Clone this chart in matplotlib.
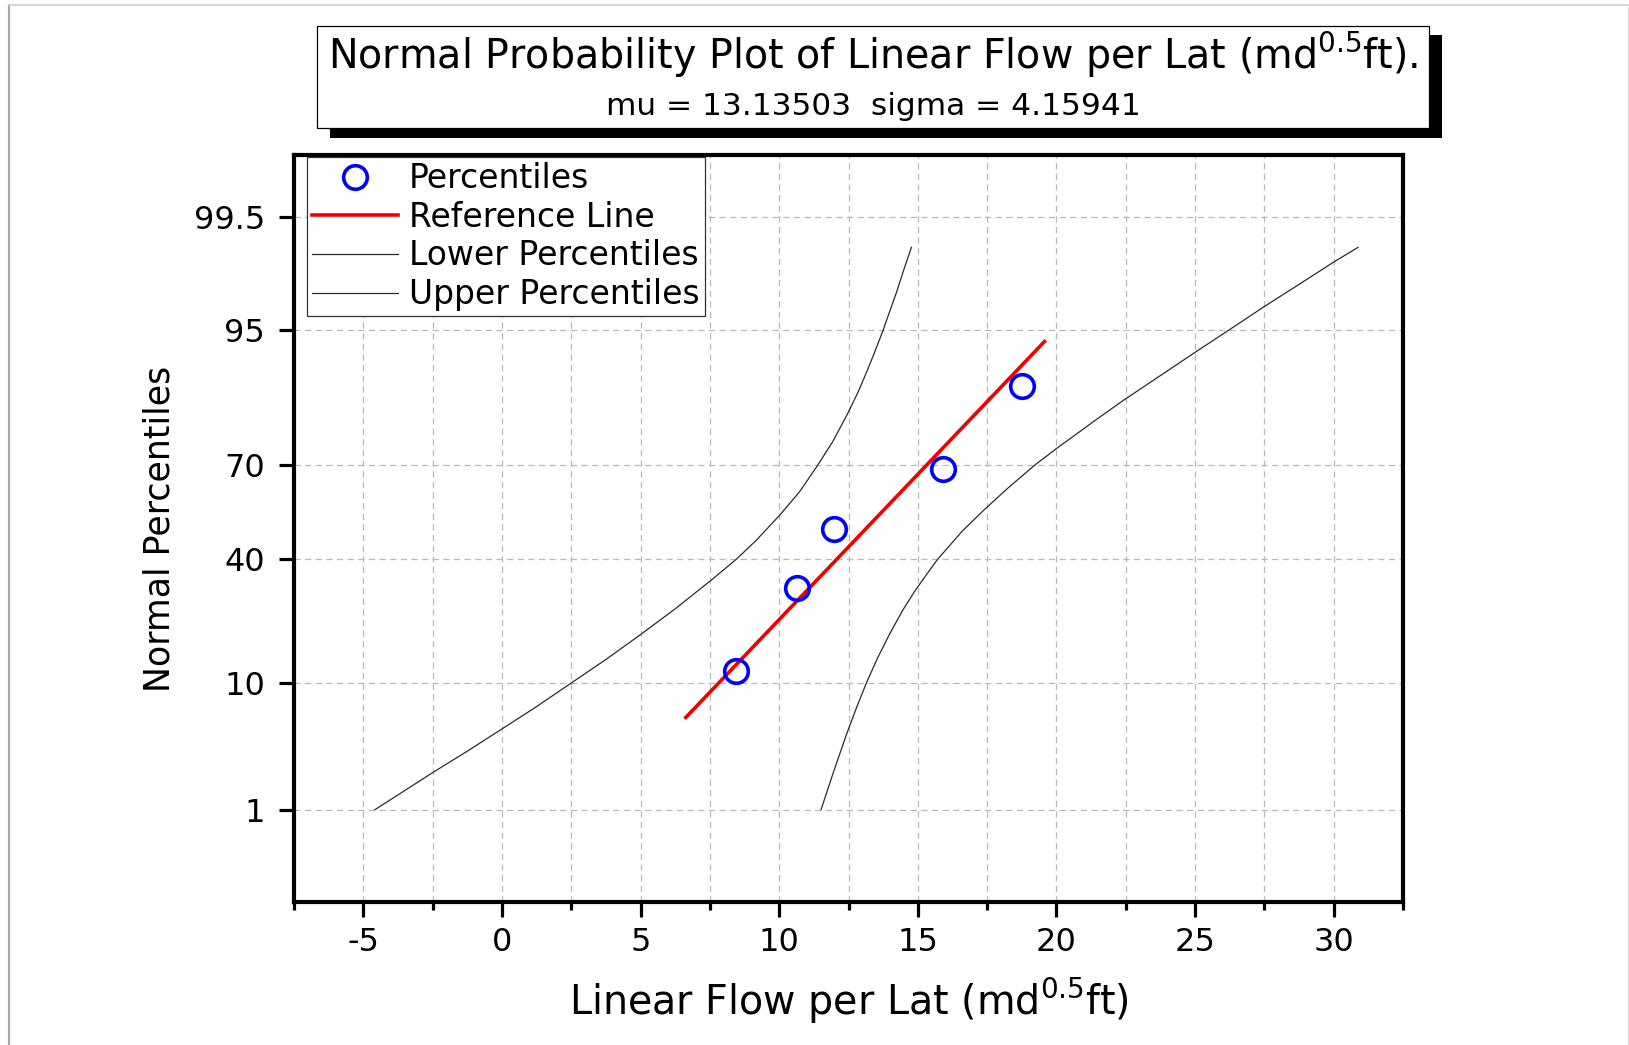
import numpy as np
import matplotlib
matplotlib.use("Agg")
import matplotlib.pyplot as plt
from matplotlib.patches import Rectangle
from matplotlib.lines import Line2D
from matplotlib.ticker import FixedLocator, MultipleLocator, NullLocator
from statistics import NormalDist

plt.rcParams['font.family'] = ['DejaVu Sans']
plt.rcParams['mathtext.default'] = 'regular'
plt.rcParams['axes.unicode_minus'] = False

# ---- fitted normal parameters ----
mu = 13.13503
sigma = 4.15941

# ---- observed values and their plotting percentiles ----
sample_values = [8.43, 10.63, 11.96, 15.92, 18.74]
sample_percentiles = [11.9, 31.0, 50.0, 69.0, 88.1]

# percentile span of the fitted reference line
ref_percentiles = [5.9, 93.9]

# ---- confidence band curves ----
lower_x = [-4.58, -2.46, -1.26, -0.04, 1.22, 2.48, 3.78, 5.02, 6.23, 7.54, 8.46, 9.16,
           10.03, 10.74, 11.39, 11.94, 12.46, 12.84, 13.11, 13.41, 13.74, 14.01, 14.24,
           14.50, 14.77]
lower_p = [1.0, 2.2, 3.26, 4.8, 6.97, 10.0, 14.03, 19.1, 25.2, 33.4, 40.0, 46.0,
           54.5, 62.0, 70.0, 76.5, 82.8, 87.0, 89.8, 92.5, 94.9, 96.5, 97.5,
           98.4, 99.0]
upper_x = [11.51, 11.96, 12.44, 12.80, 13.14, 13.53, 13.98, 14.46, 14.90, 15.30, 15.72,
           16.60, 17.34, 18.25, 19.22, 20.02, 20.85, 21.50, 22.43, 24.93, 26.24, 27.51,
           28.79, 29.99, 30.88]
upper_p = [1.0, 2.2, 4.5, 7.0, 10.0, 14.0, 19.1, 25.0, 30.3, 35.0, 40.0,
           49.1, 55.7, 63.1, 70.0, 74.7, 78.9, 81.9, 85.6, 92.6, 95.0, 96.7,
           97.86, 98.62, 99.0]

# ---- axis ticks ----
y_ticks = [1, 10, 40, 70, 95, 99.5]
y_tick_labels = ["1", "10", "40", "70", "95", "99.5"]
x_ticks = [-5, 0, 5, 10, 15, 20, 25, 30]

_nd = NormalDist()


def _pct_to_z(v):
    if not np.isfinite(v):
        return v
    return _nd.inv_cdf(min(max(v / 100.0, 1e-12), 1 - 1e-12))


def _z_to_pct(v):
    if not np.isfinite(v):
        return v
    return 100.0 * _nd.cdf(v)


def forward(p):
    return np.vectorize(_pct_to_z, otypes=[float])(np.asarray(p, dtype=float))


def inverse(z):
    return np.vectorize(_z_to_pct, otypes=[float])(np.asarray(z, dtype=float))


W, H = 1629, 1045
fig = plt.figure(figsize=(W / 100, H / 100), dpi=100)
fig.patch.set_facecolor('white')

# page edges
fig.add_artist(Line2D([9 / W, 9 / W], [0, 1 - 5 / H], transform=fig.transFigure,
                      color='#a6a6a6', lw=1.6))
fig.add_artist(Line2D([9 / W, 1628 / W], [1 - 5 / H, 1 - 5 / H], transform=fig.transFigure,
                      color='#cfcfcf', lw=1.2))
fig.add_artist(Line2D([1628 / W, 1628 / W], [0, 1 - 5 / H], transform=fig.transFigure,
                      color='#dcdcdc', lw=1.0))

ax = fig.add_axes([294 / W, 1 - 902 / H, 1109 / W, 747 / H])
ax.set_yscale('function', functions=(forward, inverse))
ax.set_xlim(-7.5, 32.5)
ax.set_ylim(0.1, 99.9)

ax.xaxis.set_major_locator(FixedLocator(x_ticks))
ax.xaxis.set_minor_locator(MultipleLocator(2.5))
ax.yaxis.set_major_locator(FixedLocator(y_ticks))
ax.yaxis.set_minor_locator(NullLocator())
ax.set_yticklabels(y_tick_labels)

grid_kw = dict(color='#b9b9b9', lw=0.9, linestyle=(0, (5, 3.5)))
ax.grid(True, which='major', axis='both', **grid_kw)
ax.grid(True, which='minor', axis='x', **grid_kw)
ax.set_axisbelow(True)

for s in ax.spines.values():
    s.set_linewidth(3.0)
    s.set_color('black')

ax.tick_params(axis='both', which='major', direction='out', length=11, width=2.3,
               labelsize=23, color='black')
ax.tick_params(axis='x', which='major', pad=7)
ax.tick_params(axis='y', which='major', pad=10)
ax.tick_params(axis='x', which='minor', direction='out', length=6, width=2.3)

# bands, reference line and points
ax.plot(lower_x, lower_p, color='#2a2a2a', lw=0.9, label='Lower Percentiles', zorder=3)
ax.plot(upper_x, upper_p, color='#2a2a2a', lw=0.9, label='Upper Percentiles', zorder=3)

ref_x = [mu + sigma * _nd.inv_cdf(p / 100.0) for p in ref_percentiles]
ax.plot(ref_x, ref_percentiles, color='#f00000', lw=2.6, label='Reference Line', zorder=4)

ax.plot(sample_values, sample_percentiles, linestyle='none', marker='o', markersize=17,
        markerfacecolor='none', markeredgecolor='#0000ff', markeredgewidth=2.6,
        label='Percentiles', zorder=5)

handles, labels = ax.get_legend_handles_labels()
order = ['Percentiles', 'Reference Line', 'Lower Percentiles', 'Upper Percentiles']
hmap = dict(zip(labels, handles))
leg = ax.legend([hmap[k] for k in order], order, loc='upper left',
                bbox_to_anchor=((306.7 - 294) / 1109, (902 - 157.3) / 747),
                borderaxespad=0, fontsize=23.8, frameon=True, fancybox=False,
                framealpha=1, edgecolor='#333333', borderpad=0.15, labelspacing=0.17,
                handlelength=2.6, handletextpad=0.35)
leg.get_frame().set_linewidth(0.9)

ax.set_xlabel(r'Linear Flow per Lat (md$^{0.5}$ft)', fontsize=28.5, va='baseline')
ax.xaxis.set_label_coords(0.5, (902 - 1015) / 747)
ax.set_ylabel('Normal Percentiles', fontsize=25, va='center')
ax.yaxis.set_label_coords((160 - 294) / 1109, 0.5)

# title box with drop shadow
fig.add_artist(Rectangle((330 / W, 1 - 138 / H), (1442 - 330) / W, (138 - 35) / H,
                         transform=fig.transFigure, facecolor='black', edgecolor='black',
                         lw=0, zorder=1))
fig.add_artist(Rectangle((317 / W, 1 - 128 / H), (1429 - 317) / W, (128 - 26) / H,
                         transform=fig.transFigure, facecolor='white', edgecolor='black',
                         lw=0.9, zorder=2))
fig.text(873 / W, 1 - 68.6 / H,
         r'Normal Probability Plot of Linear Flow per Lat (md$^{0.5}$ft).',
         ha='center', va='baseline', fontsize=28.5, zorder=3)
fig.text(873 / W, 1 - 115 / H, 'mu = 13.13503  sigma = 4.15941',
         ha='center', va='baseline', fontsize=22.5, zorder=3)

fig.savefig('out.png', dpi=100, facecolor='white')
